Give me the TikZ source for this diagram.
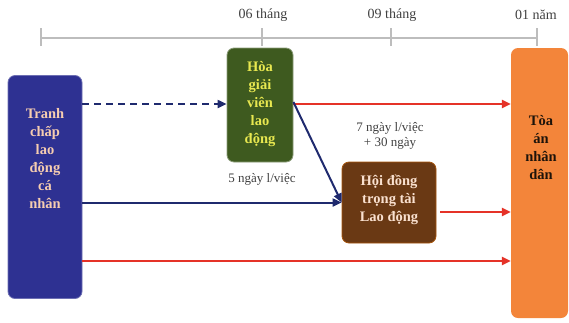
\documentclass[tikz,border=0pt]{standalone}
\usepackage{fontspec}
\setmainfont{Liberation Serif}
\usetikzlibrary{arrows.meta,calc}
\definecolor{navybox}{HTML}{2E3192}
\definecolor{navyline}{HTML}{1F2A6E}
\definecolor{oliveb}{HTML}{3E5A1F}
\definecolor{yellowt}{HTML}{E8E850}
\definecolor{brownb}{HTML}{6A3914}
\definecolor{orangeb}{HTML}{F3853A}
\definecolor{redl}{HTML}{E53228}
\definecolor{peach}{HTML}{F6CDB0}
\definecolor{grayl}{HTML}{BDBDBD}
\begin{document}
\begin{tikzpicture}[x=1pt,y=-1pt,
  box/.style={rounded corners=7pt,inner sep=0pt},
  btext/.style={font=\fontsize{14.5}{18}\selectfont\bfseries,align=center,inner sep=0pt},
  small/.style={font=\fontsize{13}{15}\selectfont,text=black!75,align=center,inner sep=0pt},
  tl/.style={grayl,line width=1.2pt},
  redarrow/.style={redl,line width=2.8pt,-{Triangle[length=9pt,width=8pt]}},
  navyarrow/.style={navyline,line width=2pt,-{Triangle[length=9pt,width=8pt]}},
]
\useasboundingbox (0,0) rectangle (569,322);
% timeline
\coordinate (t0) at (41,38);
\coordinate (t1) at (262,38);
\coordinate (t2) at (391,38);
\coordinate (t3) at (537,38);
\draw[tl] (t0) -- (t3);
\foreach \t in {t0,t1,t2,t3} \draw[tl] ([yshift=-8pt]\t) -- ([yshift=10pt]\t);
\node[small,font=\fontsize{14}{16}\selectfont] (l1) at (263,15) {06 tháng};
\node[small,font=\fontsize{14}{16}\selectfont] (l2) at (392,15) {09 tháng};
\node[small,font=\fontsize{14}{16}\selectfont] (l3) at (536,15) {01 năm};
% boxes
\node[box,fill=navybox,draw=navybox!70!white,line width=0.8pt,minimum width=74pt,minimum height=223pt] (L) at (45,187) {};
\node[btext,text=peach] (Lt) at (45,159) {Tranh\\chấp\\lao\\động\\cá\\nhân};
\node[box,fill=oliveb,draw=oliveb!60!white,line width=0.8pt,minimum width=66pt,minimum height=114pt] (H) at (260,105) {};
\node[btext,text=yellowt] (Ht) at (260,104) {Hòa\\giải\\viên\\lao\\động};
\node[box,fill=brownb,draw=brownb!60!orange,line width=0.8pt,minimum width=94pt,minimum height=81pt] (D) at (389,202.5) {};
\node[btext,text=peach!60!white] (Dt) at (389,200) {Hội đồng\\trọng tài\\Lao động};
\node[box,fill=orangeb,minimum width=57pt,minimum height=270pt] (T) at (539.5,183) {};
\node[btext,text=black!85!brown] (Tt) at (541,148) {Tòa\\án\\nhân\\dân};
% labels
\node[small] (n5) at (262,179) {5 ngày l/việc};
\node[small] (n7) at (390,136) {7 ngày l/việc\\+ 30 ngày};
% connectors
\draw[navyline,line width=2pt,dash pattern=on 7pt off 5pt,-{Triangle[length=9pt,width=8pt]}] (L.east |- 0,104) -- (H.west |- 0,104);
\draw[redarrow] (H.east |- 0,104) -- (T.west |- 0,104);
\draw[navyarrow] ([yshift=3pt]H.east) -- (D.west);
\draw[navyarrow] (L.east |- D.west) -- (D.west);
\coordinate (dr) at ($(D.east)+(4,9.5)$);
\draw[redarrow] (dr) -- (T.west |- dr);
\coordinate (lb) at (L.east |- 0,261);
\draw[redarrow] (lb) -- (T.west |- lb);
\end{tikzpicture}
\end{document}
